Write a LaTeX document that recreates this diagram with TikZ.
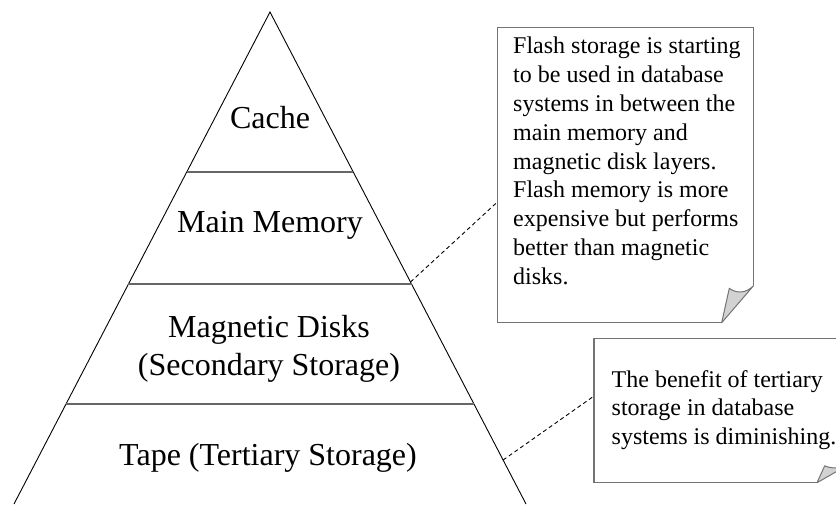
\documentclass[tikz,border=0pt]{standalone}
\usepackage{fontspec}
\setmainfont{Liberation Serif}
\usetikzlibrary{calc}
\begin{document}
\begin{tikzpicture}[x=1pt,y=-1pt,
  edge/.style={line width=0.9pt, draw=black},
  layerline/.style={line width=1.6pt, draw=gray!80!black},
  layerlabel/.style={font=\fontsize{32}{38.4}\selectfont, inner sep=0pt, align=center},
  notebox/.style={line width=1.5pt, draw=gray!90!black},
  notefold/.style={line width=1pt, draw=gray!90!black, fill=gray!35, line join=round},
  notetext/.style={font=\fontsize{24}{28.8}\selectfont, inner sep=0pt, align=left, anchor=north west},
  callout/.style={line width=0.9pt, dash pattern=on 4pt off 3pt}]
\useasboundingbox (0,0) rectangle (836,504);
\clip (0,0) rectangle (836,504);
% pyramid
\coordinate (apex) at (270,12);
\coordinate (bl) at (14,504);
\coordinate (br) at (526,504);
\draw[edge] (bl) -- (apex) -- (br);
\coordinate (c1l) at ($(apex)!0.3252!(bl)$);
\coordinate (c1r) at ($(apex)!0.3252!(br)$);
\coordinate (c2l) at ($(apex)!0.5528!(bl)$);
\coordinate (c2r) at ($(apex)!0.5528!(br)$);
\coordinate (c3l) at ($(apex)!0.7967!(bl)$);
\coordinate (c3r) at ($(apex)!0.7967!(br)$);
\draw[layerline] (c1l) -- (c1r);
\draw[layerline] (c2l) -- (c2r);
\draw[layerline] (c3l) -- (c3r);
% labels
\node[layerlabel, anchor=base] (cache) at (270,128.5) {Cache};
\node[layerlabel, anchor=base] (mem) at (270,232.5) {Main Memory};
\node[layerlabel, anchor=north] (disk) at (269,315.1) {Magnetic Disks\\(Secondary Storage)};
\node[layerlabel, anchor=base] (tape) at (268,465) {Tape (Tertiary Storage)};
% connectors
\coordinate (t1) at ($(apex)!0.5488!(br)$);
\coordinate (n1in) at (497.7,201.7);
\coordinate (t2) at ($(apex)!0.9106!(br)$);
\coordinate (n2in) at (594,396);
\draw[callout] (t1) -- (n1in);
\draw[callout] (t2) -- (n2in);
% note 1
\draw[notebox] (721.7,322.7) -- (497.7,322.7) -- (497.7,27.7) -- (753.3,27.7) -- (753.3,286);
\draw[notefold] (721.7,322.7) -- (729.3,288.3) .. controls (737,294) and (746,293) .. (753.3,286) -- cycle;
\node[notetext] (note1) at (513,37) {Flash storage is starting\\to be used in database\\systems in between the\\main memory and\\magnetic disk layers.\\Flash memory is more\\expensive but performs\\better than magnetic\\disks.};
% note 2
\draw[notebox] (817,482.7) -- (594,482.7) -- (594,338.5) -- (848.6,338.5) -- (848.6,464.7);
\draw[notefold] (817,482.7) -- (824.7,465.8) .. controls (832,469) and (841,468.5) .. (848.6,464.7) -- cycle;
\node[notetext] (note2) at (611.5,370) {The benefit of tertiary\\storage in database\\systems is diminishing.};
\end{tikzpicture}
\end{document}
